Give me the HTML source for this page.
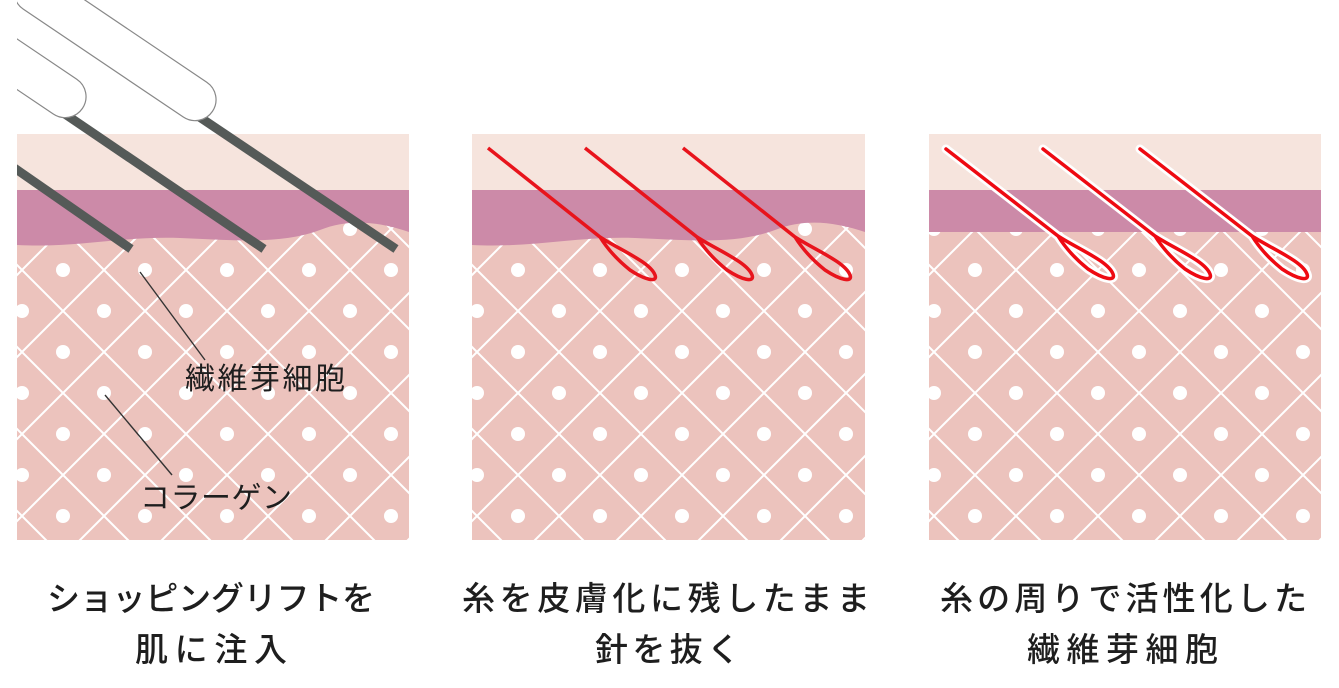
<!DOCTYPE html>
<html><head><meta charset="utf-8"><style>
html,body{margin:0;padding:0;background:#fff;}
svg{display:block;}
text{font-family:"Liberation Sans","Noto Sans CJK JP",sans-serif;fill:#1e1e1e;}
.cap{font-weight:500;}
</style></head><body>
<svg width="1339" height="688" viewBox="0 0 1339 688" xmlns="http://www.w3.org/2000/svg">
<defs>
<pattern id="m1" patternUnits="userSpaceOnUse" width="82" height="82" patternTransform="translate(63,24)">
<path d="M41 0 L82 41 L41 82 L0 41 Z" fill="none" stroke="#fff" stroke-width="2"/>
<circle cx="0" cy="0" r="7" fill="#fff"/><circle cx="82" cy="0" r="7" fill="#fff"/><circle cx="0" cy="82" r="7" fill="#fff"/><circle cx="82" cy="82" r="7" fill="#fff"/><circle cx="41" cy="41" r="7" fill="#fff"/>
</pattern>
<pattern id="m2" patternUnits="userSpaceOnUse" width="82" height="82" patternTransform="translate(26,24)">
<path d="M41 0 L82 41 L41 82 L0 41 Z" fill="none" stroke="#fff" stroke-width="2"/>
<circle cx="0" cy="0" r="7" fill="#fff"/><circle cx="82" cy="0" r="7" fill="#fff"/><circle cx="0" cy="82" r="7" fill="#fff"/><circle cx="82" cy="82" r="7" fill="#fff"/><circle cx="41" cy="41" r="7" fill="#fff"/>
</pattern>
<pattern id="m3" patternUnits="userSpaceOnUse" width="82" height="82" patternTransform="translate(73,24)">
<path d="M41 0 L82 41 L41 82 L0 41 Z" fill="none" stroke="#fff" stroke-width="2"/>
<circle cx="0" cy="0" r="7" fill="#fff"/><circle cx="82" cy="0" r="7" fill="#fff"/><circle cx="0" cy="82" r="7" fill="#fff"/><circle cx="82" cy="82" r="7" fill="#fff"/><circle cx="41" cy="41" r="7" fill="#fff"/>
</pattern>
<clipPath id="c1"><rect x="17" y="0" width="392" height="540"/></clipPath>
</defs>

<rect x="17" y="134" width="392" height="406" fill="#ecc3bd"/>
<rect x="17" y="134" width="392" height="406" fill="url(#m1)"/>
<rect x="17" y="134" width="392" height="57" fill="#f6e4dd"/>
<path d="M17 190 H409 V232 C380 222 350 218 320 230 C280 245 230 240 180 238 C120 236 80 248 17 245 Z" fill="#cc8aa8"/>

<rect x="472" y="134" width="393" height="406" fill="#ecc3bd"/>
<rect x="472" y="134" width="393" height="406" fill="url(#m2)"/>
<rect x="472" y="134" width="393" height="57" fill="#f6e4dd"/>
<path d="M472 190 H865 V232 C835 222 805 218 775 230 C735 245 685 240 635 238 C575 236 535 248 472 245 Z" fill="#cc8aa8"/>

<rect x="929" y="134" width="392" height="406" fill="#ecc3bd"/>
<rect x="929" y="134" width="392" height="406" fill="url(#m3)"/>
<rect x="929" y="134" width="392" height="57" fill="#f6e4dd"/>
<rect x="929" y="190" width="392" height="42" fill="#cc8aa8"/>

<g clip-path="url(#c1)">
<line x1="0" y1="158" x2="131" y2="249" stroke="#555a58" stroke-width="9"/>
<line x1="62" y1="112" x2="264" y2="249" stroke="#555a58" stroke-width="9"/>
<line x1="195" y1="114" x2="396" y2="249" stroke="#555a58" stroke-width="9"/>
<g transform="translate(70,100) rotate(34)"><rect x="-200" y="-21" width="215" height="42" rx="21" fill="#fff" stroke="#888" stroke-width="1.2"/></g>
<g transform="translate(200,103) rotate(34)"><rect x="-220" y="-21" width="235" height="42" rx="21" fill="#fff" stroke="#888" stroke-width="1.2"/></g>
</g>
<line x1="140" y1="272" x2="205" y2="360" stroke="#333" stroke-width="1.4"/>
<line x1="105" y1="395" x2="172" y2="475" stroke="#333" stroke-width="1.4"/>
<text x="185" y="389" font-size="30" textLength="160">繊維芽細胞</text>
<text x="140" y="508" font-size="30" textLength="152">コラーゲン</text>

<g fill="none" stroke="#e8141c" stroke-width="3.5" stroke-linejoin="round">
<path d="M488 148 L600 237 C620 250 650 262 655 275 C658 283 645 280 630 270 C615 258 605 245 600 237"/>
<path d="M585 148 L697 237 C717 250 747 262 752 275 C755 283 742 280 727 270 C712 258 702 245 697 237"/>
<path d="M683 148 L795 237 C815 250 845 262 850 275 C853 283 840 280 825 270 C810 258 800 245 795 237"/>
</g>
<g fill="none" stroke-linejoin="round" stroke-linecap="round">
<g stroke="#fff" stroke-width="9">
<path d="M946 149 L1058 236 C1078 249 1108 261 1113 274 C1116 282 1103 279 1088 269 C1073 257 1063 244 1058 236"/>
<path d="M1043 149 L1155 236 C1175 249 1205 261 1210 274 C1213 282 1200 279 1185 269 C1170 257 1160 244 1155 236"/>
<path d="M1140 149 L1252 236 C1272 249 1302 261 1307 274 C1310 282 1297 279 1282 269 C1267 257 1257 244 1252 236"/>
</g>
<g stroke="#ee0a12" stroke-width="3.5">
<path d="M946 149 L1058 236 C1078 249 1108 261 1113 274 C1116 282 1103 279 1088 269 C1073 257 1063 244 1058 236"/>
<path d="M1043 149 L1155 236 C1175 249 1205 261 1210 274 C1213 282 1200 279 1185 269 C1170 257 1160 244 1155 236"/>
<path d="M1140 149 L1252 236 C1272 249 1302 261 1307 274 C1310 282 1297 279 1282 269 C1267 257 1257 244 1252 236"/>
</g>
</g>

<text class="cap" x="47" y="610" font-size="33" textLength="328">ショッピングリフトを</text>
<text class="cap" x="135" y="661" font-size="33" textLength="152">肌に注入</text>
<text class="cap" x="462" y="610" font-size="33" textLength="408">糸を皮膚化に残したまま</text>
<text class="cap" x="595" y="661" font-size="33" textLength="145">針を抜く</text>
<text class="cap" x="940" y="610" font-size="33" textLength="367">糸の周りで活性化した</text>
<text class="cap" x="1027" y="661" font-size="33" textLength="191">繊維芽細胞</text>
</svg>
</body></html>
